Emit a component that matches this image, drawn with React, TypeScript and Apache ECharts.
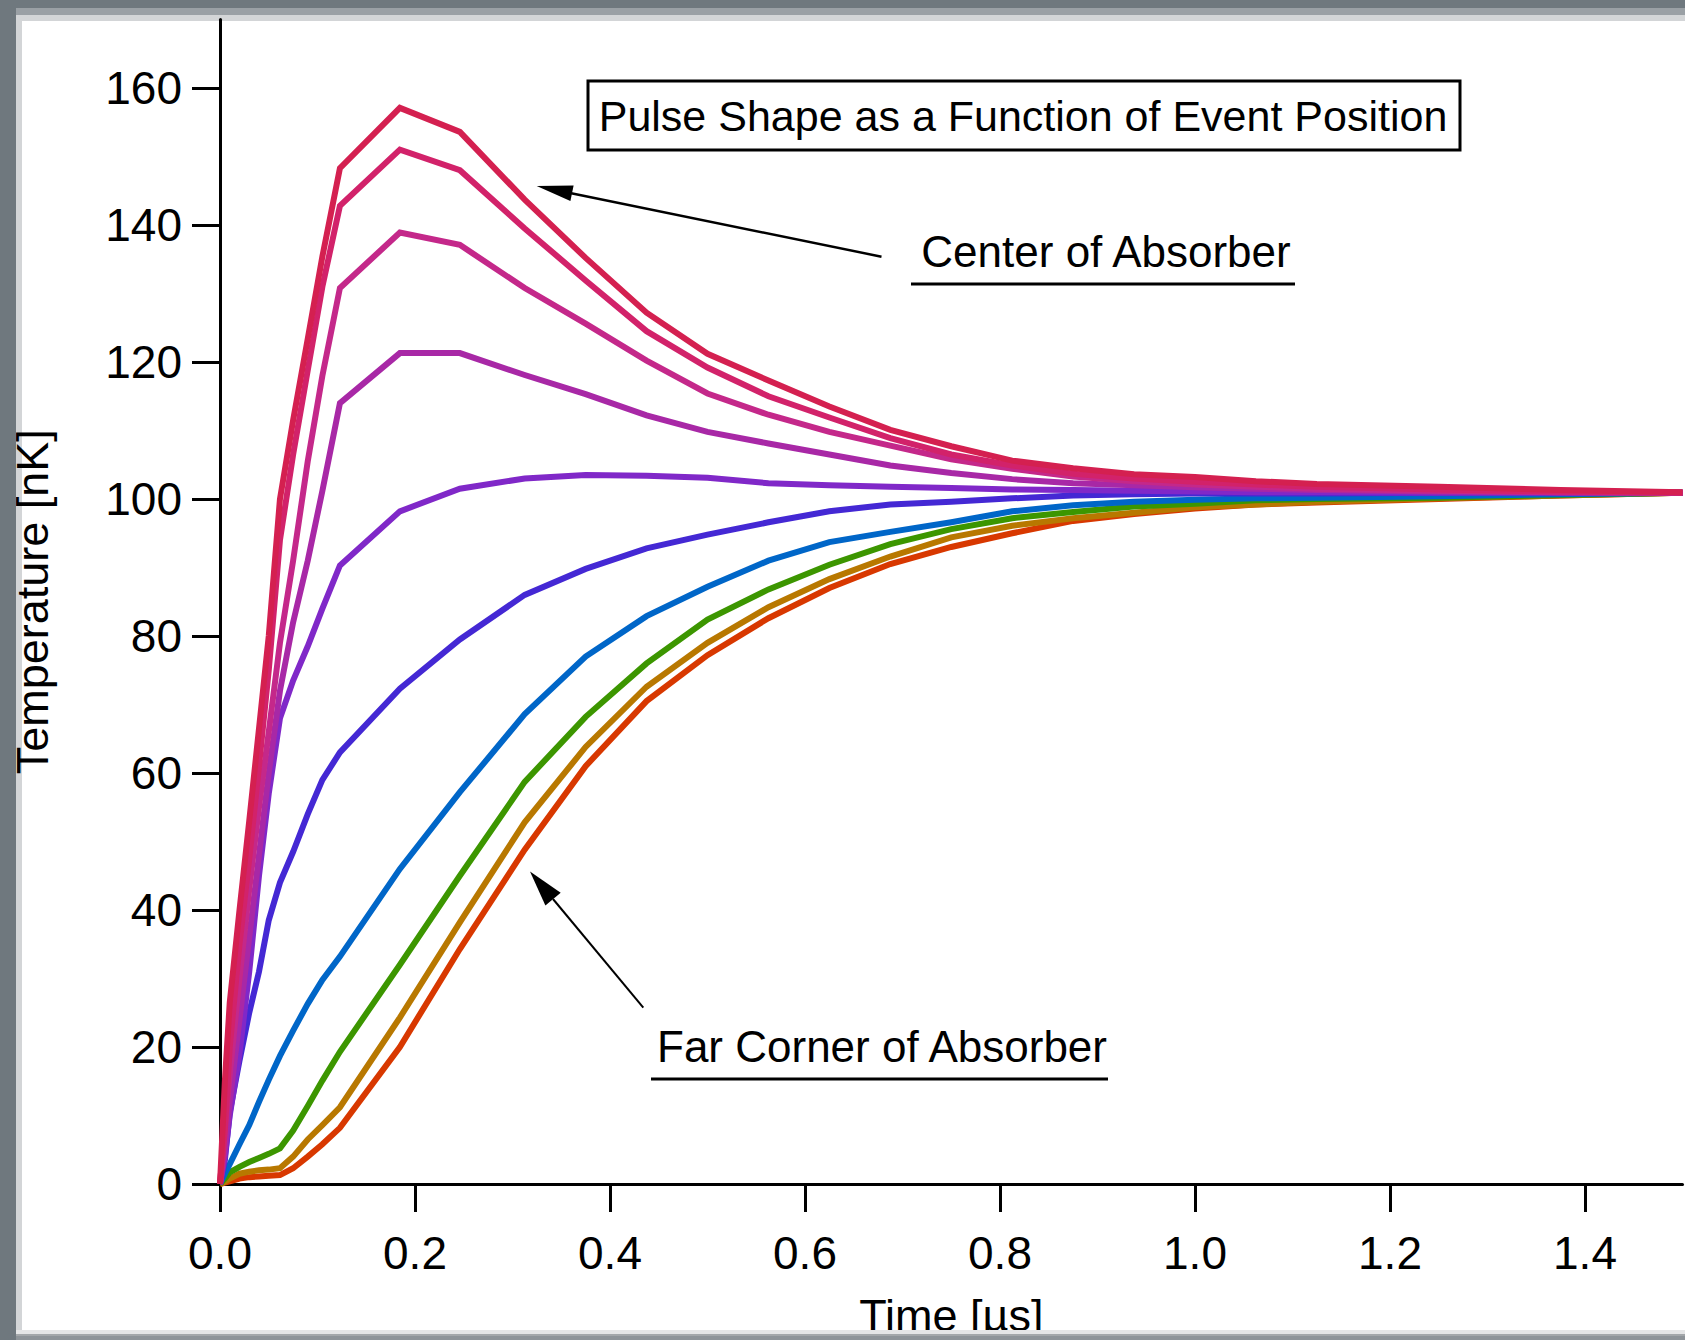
import React, { useEffect, useRef } from "react";
import * as echarts from "echarts";

const W = 1685;
const H = 1340;

// time axis samples [µs]
const T = [0, 0.005, 0.01, 0.02, 0.03, 0.04, 0.05, 0.0615, 0.075, 0.09, 0.105, 0.123, 0.1845, 0.246, 0.3125, 0.375, 0.4375, 0.5, 0.5625, 0.625, 0.6875, 0.75, 0.8125, 0.875, 0.9375, 1.0, 1.0625, 1.125, 1.25, 1.375, 1.5];

// temperature [nK], from the center of the absorber (C1) to the far corner (C10)
const C1 = [0, 15, 26.5, 40, 53, 66.5, 80, 100, 111.5, 123.4, 135.4, 148.3, 157.1, 153.6, 143.7, 135.2, 127.2, 121.2, 117.3, 113.5, 110.1, 107.7, 105.6, 104.5, 103.6, 103.2, 102.6, 102.2, 101.8, 101.3, 101.0];
const C2 = [0, 8, 20, 35, 47.5, 61, 75, 94, 106.5, 118.8, 131, 142.8, 151, 148, 139.5, 131.9, 124.5, 119.2, 115, 111.9, 108.9, 106.5, 104.9, 103.7, 103, 102.5, 102.1, 101.8, 101.4, 101.1, 100.9];
const C3 = [0, 8, 16, 30, 43, 55, 66, 79, 91, 105.5, 118, 130.8, 138.9, 137.1, 130.8, 125.6, 120.2, 115.4, 112.3, 109.8, 107.8, 105.8, 104.4, 103.3, 102.6, 102.1, 101.8, 101.5, 101.2, 101.0, 100.9];
const C4 = [0, 5, 12, 24, 36, 48, 60, 72, 82, 91, 101.2, 114, 121.3, 121.3, 118.1, 115.3, 112.2, 109.8, 108.1, 106.5, 104.9, 103.8, 102.9, 102.3, 102.0, 101.7, 101.5, 101.3, 101.1, 101.0, 100.9];
const C5 = [0, 4, 10, 19, 31, 45, 57, 68, 73.5, 78.5, 84, 90.3, 98.2, 101.5, 103.0, 103.5, 103.4, 103.1, 102.3, 102.0, 101.8, 101.6, 101.4, 101.3, 101.2, 101.1, 101.0, 101.0, 100.9, 100.9, 100.9];
const C6 = [0, 3.5, 10.5, 18, 25, 31, 38.5, 44, 48.5, 54, 59, 63, 72.3, 79.5, 86, 89.8, 92.8, 94.8, 96.6, 98.2, 99.2, 99.6, 100.1, 100.5, 100.7, 100.8, 100.8, 100.8, 100.9, 100.9, 100.9];
const C7 = [0, 1.5, 2.9, 5.8, 8.6, 12, 15.2, 18.7, 22.4, 26.3, 29.8, 33.2, 46, 57.2, 68.6, 77, 82.9, 87.2, 91, 93.7, 95.2, 96.6, 98.2, 99.1, 99.6, 99.9, 100.1, 100.2, 100.4, 100.7, 100.9];
const C8 = [0, 0.8, 1.7, 2.5, 3.2, 3.8, 4.4, 5.2, 7.8, 11.4, 15.1, 19.3, 32, 45, 58.7, 68.2, 76, 82.4, 86.8, 90.4, 93.4, 95.6, 97.2, 98.1, 98.9, 99.3, 99.8, 100.0, 100.2, 100.6, 100.9];
const C9 = [0, 0.3, 0.8, 1.5, 1.8, 2.0, 2.1, 2.3, 4.0, 6.5, 8.6, 11.2, 24.3, 38.2, 52.8, 63.8, 72.6, 79.0, 84.2, 88.3, 91.6, 94.4, 96.1, 97.2, 98.0, 98.8, 99.2, 99.6, 100.1, 100.5, 100.9];
const C10 = [0, 0.2, 0.4, 0.8, 1.0, 1.1, 1.2, 1.3, 2.3, 4.0, 5.8, 8.2, 20.0, 34.3, 48.8, 61.0, 70.5, 77.2, 82.6, 87.0, 90.5, 93.0, 95.0, 96.8, 97.8, 98.6, 99.2, 99.5, 100.0, 100.5, 100.9];

const CURVES = [C10, C9, C8, C7, C6, C5, C4, C3, C2, C1];
const COLORS = ["#d83800", "#b87800", "#3c9600", "#0066c8", "#4428d4", "#8028c8", "#a828a6", "#c4288a", "#d2226a", "#d42050"];

const X_TICKS = [0, 0.2, 0.4, 0.6, 0.8, 1.0, 1.2, 1.4];
const Y_TICKS = [0, 20, 40, 60, 80, 100, 120, 140, 160];

const TITLE = "Pulse Shape as a Function of Event Position";
const NOTE_CENTER = "Center of Absorber";
const NOTE_CORNER = "Far Corner of Absorber";

const FONT = '"Liberation Sans", Arial, sans-serif';

export default function App() {
  const ref = useRef<HTMLDivElement>(null);
  useEffect(() => {
    if (!ref.current) return;
    const chart = echarts.init(ref.current, null, { renderer: "svg", width: W, height: H });
    const series = CURVES.map((vals, i) => ({
      type: "line",
      data: T.map((t, k) => [t, vals[k]]),
      showSymbol: false,
      symbol: "none",
      clip: false,
      lineStyle: { color: COLORS[i], width: 6, join: "miter" },
      z: 2 + i,
    }));
    const axisLine = { show: true, lineStyle: { color: "#000", width: 3 } };
    chart.setOption({
      animation: false,
      backgroundColor: "transparent",
      grid: { left: 220, top: 19.5, right: 2.5, bottom: 156, containLabel: false, outerBoundsMode: "none" },
      xAxis: {
        type: "value",
        min: 0,
        max: 1.5,
        name: "Time [µs]",
        nameLocation: "middle",
        nameGap: 109,
        nameTextStyle: { fontSize: 45, fontFamily: FONT, color: "#000" },
        axisLine,
        axisTick: { show: true, inside: false, length: 28, lineStyle: { color: "#000", width: 3 }, customValues: X_TICKS },
        axisLabel: {
          margin: 46,
          fontSize: 46,
          fontFamily: FONT,
          color: "#000",
          customValues: X_TICKS,
          formatter: (v: number) => v.toFixed(1),
        },
        splitLine: { show: false },
      },
      yAxis: {
        type: "value",
        min: 0,
        max: 170,
        name: "Temperature [nK]",
        nameLocation: "middle",
        nameGap: 165,
        nameTextStyle: { fontSize: 45, fontFamily: FONT, color: "#000" },
        axisLine,
        axisTick: { show: true, inside: false, length: 28, lineStyle: { color: "#000", width: 3 }, customValues: Y_TICKS },
        axisLabel: {
          margin: 38,
          fontSize: 46,
          fontFamily: FONT,
          color: "#000",
          customValues: Y_TICKS,
          formatter: (v: number) => String(v),
        },
        splitLine: { show: false },
      },
      series,
      graphic: [
        // title box
        { type: "rect", shape: { x: 588, y: 81, width: 872, height: 69 }, style: { fill: "#fff", stroke: "#000", lineWidth: 3 }, z: 50 },
        { type: "text", x: 1023, y: 116, style: { text: TITLE, font: `43px ${FONT}`, fill: "#000", align: "center", verticalAlign: "middle" }, z: 51 },
        // center annotation
        { type: "text", x: 1106, y: 251, style: { text: NOTE_CENTER, font: `44px ${FONT}`, fill: "#000", align: "center", verticalAlign: "middle" }, z: 51 },
        { type: "rect", shape: { x: 911, y: 282.5, width: 384, height: 3 }, style: { fill: "#000" }, z: 51 },
        { type: "line", shape: { x1: 570, y1: 193, x2: 881.5, y2: 256.7 }, style: { stroke: "#000", lineWidth: 2.5 }, z: 51 },
        { type: "polygon", shape: { points: [[536.7, 186], [570.4, 201], [573.6, 185.4]] }, style: { fill: "#000" }, z: 51 },
        // far corner annotation
        { type: "text", x: 882, y: 1046, style: { text: NOTE_CORNER, font: `44px ${FONT}`, fill: "#000", align: "center", verticalAlign: "middle" }, z: 51 },
        { type: "rect", shape: { x: 651, y: 1077.5, width: 457, height: 3 }, style: { fill: "#000" }, z: 51 },
        { type: "line", shape: { x1: 553, y1: 899, x2: 643.3, y2: 1007.6 }, style: { stroke: "#000", lineWidth: 2 }, z: 51 },
        { type: "polygon", shape: { points: [[530, 871.5], [545.4, 905.5], [560.7, 892.7]] }, style: { fill: "#000" }, z: 51 },
        // window frame on top
        { type: "rect", shape: { x: 0, y: 1330, width: W, height: 10 }, style: { fill: "#a3a7aa" }, z: 100 },
        { type: "rect", shape: { x: 0, y: 1330, width: W, height: 4 }, style: { fill: "#e4e5e6" }, z: 101 },
        { type: "rect", shape: { x: 0, y: 1336, width: W, height: 4 }, style: { fill: "#8e9499" }, z: 101 },
        { type: "rect", shape: { x: 0, y: 0, width: 16, height: 1340 }, style: { fill: "#6f787e" }, z: 102 },
        { type: "rect", shape: { x: 0, y: 0, width: W, height: 8 }, style: { fill: "#6f787e" }, z: 102 },
      ],
    });
    return () => chart.dispose();
  }, []);

  return (
    <div style={{ position: "fixed", left: 0, top: 0, width: W, height: H, background: "#6f787e", overflow: "hidden" }}>
      <div style={{ position: "absolute", left: 8, top: 8, width: W - 8, height: 14, background: "#9aa0a5" }} />
      <div style={{ position: "absolute", left: 16, top: 15, width: W - 16, height: 7, background: "#d3d5d7" }} />
      <div style={{ position: "absolute", left: 16, top: 15, width: 7, height: 1315, background: "#d3d5d7" }} />
      <div style={{ position: "absolute", left: 22, top: 21, width: W - 22, height: 1309, background: "#ffffff" }} />
      <div ref={ref} style={{ position: "absolute", left: 0, top: 0, width: W, height: H }} />
    </div>
  );
}
